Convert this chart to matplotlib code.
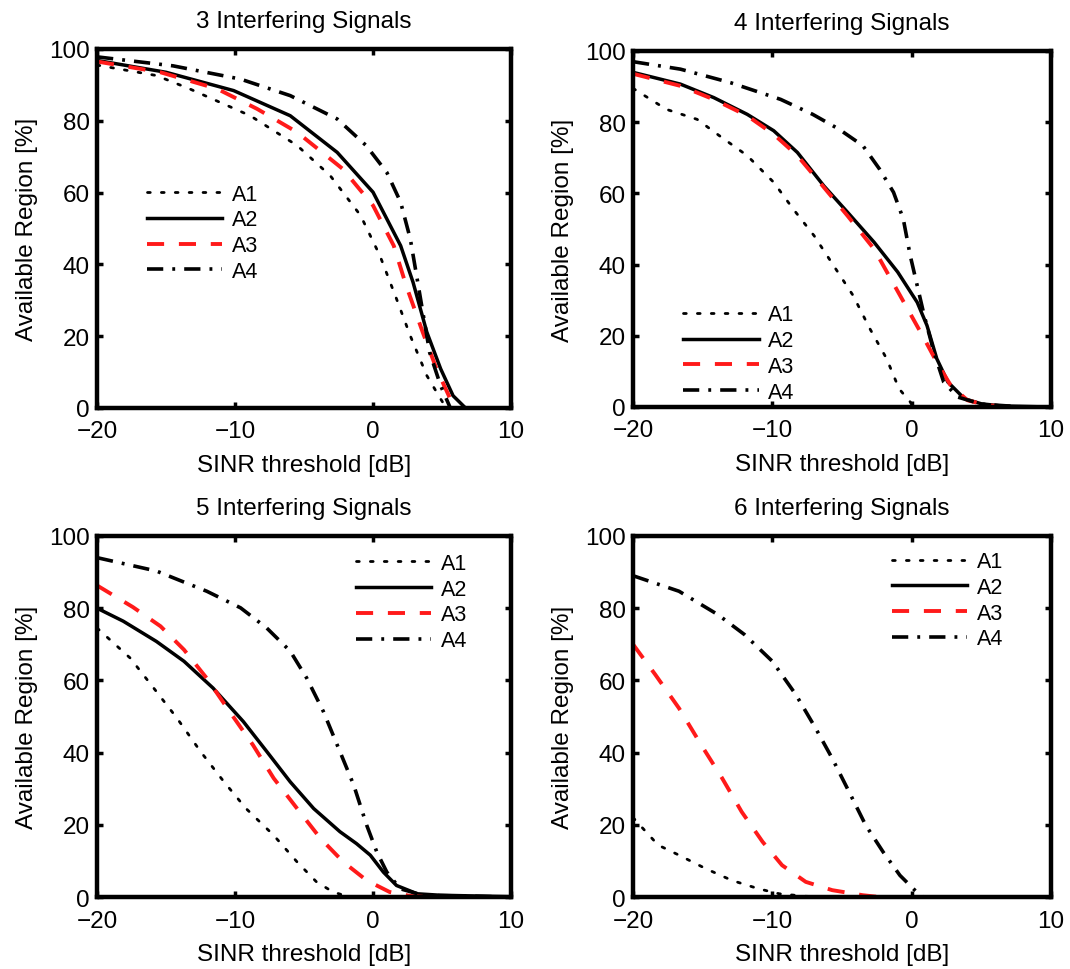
import matplotlib
matplotlib.use("Agg")
import matplotlib.pyplot as plt

plt.rcParams['font.family'] = ['Liberation Sans', 'DejaVu Sans']

titles = ["3 Interfering Signals", "4 Interfering Signals",
          "5 Interfering Signals", "6 Interfering Signals"]
series_names = ["A1", "A2", "A3", "A4"]
xlabel_text = "SINR threshold [dB]"
ylabel_text = "Available Region [%]"
xticks = [-20, -10, 0, 10]
xticklabels = ['\u221220', '\u221210', '0', '10']
yticks = [0, 20, 40, 60, 80, 100]

# ---- 3 interfering signals ----
p3_a1_x = [-20, -15.7, -13.3, -8.9, -5.5, -3.1, -0.9, 0.5, 1.7, 2.7, 3.9, 4.9, 5.3, 10]
p3_a1_y = [95.5, 92.6, 88.9, 81.4, 73.1, 64.7, 53.6, 42.4, 30.4, 20.1, 9.0, 2.5, 0, 0]
p3_a2_x = [-20, -15.0, -10.1, -6.0, -2.6, 0.0, 2.0, 2.9, 3.9, 4.9, 5.8, 6.7, 10]
p3_a2_y = [96.8, 93.5, 88.4, 81.4, 71.2, 60.1, 45.2, 35.0, 21.1, 10.9, 3.4, 0, 0]
p3_a3_x = [-20, -15.4, -11.3, -8.4, -5.5, -2.2, 0.0, 1.5, 2.4, 3.6, 4.6, 5.6, 6.1, 10]
p3_a3_y = [96.5, 93.5, 88.9, 83.3, 76.8, 66.6, 56.4, 45.2, 34.1, 21.1, 10.9, 2.5, 0, 0]
p3_a4_x = [-20, -14.5, -9.6, -6.0, -2.6, -0.5, 1.0, 2.0, 2.7, 3.2, 3.65, 4.1, 4.9, 5.6, 10]
p3_a4_y = [97.8, 95.3, 91.6, 87.0, 80.5, 73.1, 65.6, 57.3, 47.1, 35.9, 25.7, 15.5, 6.2, 0, 0]

# ---- 4 interfering signals ----
p4_a1_x = [-20, -17.6, -15.4, -13.8, -11.8, -9.9, -8.5, -7.0, -5.6, -4.2, -3.0, -1.8, -0.9, -0.1, 0.1, 10]
p4_a1_y = [89.5, 83.6, 80.8, 76.2, 70.6, 63.1, 55.6, 48.1, 39.7, 31.3, 22.0, 13.6, 5.1, 1.4, 0, 0]
p4_a2_x = [-20, -16.6, -14.2, -11.8, -9.9, -8.2, -6.3, -4.6, -2.7, -1.0, 0.4, 1.1, 1.8, 2.6, 3.8, 5.0, 6.4, 9.8, 10]
p4_a2_y = [94.0, 90.7, 86.9, 82.2, 77.6, 71.5, 62.1, 54.7, 46.3, 37.9, 29.4, 22.9, 13.6, 7.0, 2.3, 0.9, 0.3, 0, 0]
p4_a3_x = [-20, -16.6, -14.2, -11.8, -9.9, -8.2, -6.3, -4.6, -2.7, -1.5, -0.3, 0.9, 1.8, 2.8, 4.0, 5.4, 7.3, 10]
p4_a3_y = [93.6, 90.2, 86.4, 81.8, 76.6, 70.6, 61.7, 53.7, 44.4, 36.0, 27.6, 19.2, 12.6, 6.1, 1.9, 0.5, 0, 0]
p4_a4_x = [-20, -16.6, -13.0, -9.4, -7.1, -5.2, -3.5, -2.3, -1.3, -0.6, -0.1, 0.4, 0.9, 1.6, 2.3, 3.3, 5.0, 8.0, 10]
p4_a4_y = [97.0, 94.9, 91.1, 86.4, 82.2, 78.0, 73.4, 66.8, 60.3, 52.8, 42.5, 34.1, 25.7, 15.4, 7.0, 2.8, 0.8, 0, 0]

# ---- 5 interfering signals ----
p5_a1_x = [-20, -17.6, -15.9, -14.2, -12.5, -10.8, -9.2, -7.2, -5.5, -4.1, -2.9, -1.7, 10]
p5_a1_y = [74.5, 66.2, 57.9, 49.5, 40.3, 31.9, 24.5, 17.1, 9.7, 4.2, 1.4, 0, 0]
p5_a2_x = [-20, -18.1, -15.7, -13.7, -11.6, -9.4, -7.7, -6.0, -4.3, -2.4, -1.2, -0.2, 0.75, 1.7, 3.2, 4.85, 8.5, 10]
p5_a2_y = [80.0, 76.4, 70.8, 65.3, 57.9, 48.6, 40.3, 31.9, 24.5, 18.1, 14.8, 11.6, 6.9, 3.2, 0.9, 0.5, 0.2, 0.1]
p5_a3_x = [-20, -17.4, -15.4, -13.7, -12.05, -10.4, -8.7, -7.2, -5.5, -3.8, -2.15, -0.46, 1.2, 2.7, 3.9, 10]
p5_a3_y = [86.3, 80.3, 75.0, 68.5, 60.6, 51.4, 42.1, 32.9, 24.5, 16.2, 9.7, 4.6, 1.4, 0.3, 0, 0]
p5_a4_x = [-20, -15.7, -12.05, -9.6, -7.7, -6.0, -4.8, -3.6, -2.4, -1.4, -0.46, 0.27, 1.0, 1.96, 3.6, 10]
p5_a4_y = [94.0, 90.3, 84.7, 80.1, 74.5, 68.1, 60.6, 51.4, 40.3, 31.0, 19.9, 12.5, 6.9, 2.3, 0.5, 0]

# ---- 6 interfering signals ----
p6_a1_x = [-20, -18.2, -16.7, -14.8, -12.9, -11.0, -9.5, -7.6, -5.9, 10]
p6_a1_y = [22.0, 14.4, 11.6, 7.9, 4.6, 2.3, 0.9, 0.2, 0, 0]
p6_a2_x = [-20, 10]
p6_a2_y = [0, 0]
p6_a3_x = [-20, -18.4, -16.7, -15.1, -13.6, -12.2, -10.7, -9.3, -7.6, -5.7, -3.5, -2.3, 10]
p6_a3_y = [70.0, 61.6, 52.3, 42.1, 32.9, 23.6, 15.3, 8.8, 4.2, 1.9, 0.5, 0, 0]
p6_a4_x = [-20, -16.7, -13.9, -12.0, -10.0, -8.3, -6.9, -5.7, -4.5, -3.3, -2.05, -0.84, 0.12, 0.6, 0.84, 10]
p6_a4_y = [89.0, 84.7, 78.2, 72.7, 65.3, 56.0, 46.8, 38.4, 29.2, 19.9, 12.5, 6.0, 2.3, 0.5, 0, 0]

panels = [
    [(p3_a1_x, p3_a1_y), (p3_a2_x, p3_a2_y), (p3_a3_x, p3_a3_y), (p3_a4_x, p3_a4_y)],
    [(p4_a1_x, p4_a1_y), (p4_a2_x, p4_a2_y), (p4_a3_x, p4_a3_y), (p4_a4_x, p4_a4_y)],
    [(p5_a1_x, p5_a1_y), (p5_a2_x, p5_a2_y), (p5_a3_x, p5_a3_y), (p5_a4_x, p5_a4_y)],
    [(p6_a1_x, p6_a1_y), (p6_a2_x, p6_a2_y), (p6_a3_x, p6_a3_y), (p6_a4_x, p6_a4_y)],
]

styles = [
    dict(color='black', lw=2.0, dashes=(1, 4), dash_capstyle='round'),
    dict(color='black', lw=2.5),
    dict(color='#ff1a1a', lw=2.8, dashes=(4.4, 3.8)),
    dict(color='black', lw=2.6, dashes=(4.5, 2.5, 0.8, 2.5)),
]

axes_pos = [
    [0.0907, 0.5784, 0.3869, 0.3701],
    [0.5916, 0.5794, 0.3906, 0.3670],
    [0.0907, 0.0742, 0.3869, 0.3722],
    [0.5916, 0.0742, 0.3906, 0.3722],
]
legend_anchor = [(0.12, 0.625), (0.12, 0.288), (0.625, 0.953), (0.62, 0.958)]

FS = 17.5
fig = plt.figure(figsize=(10.7, 9.7), dpi=100)
for i in range(4):
    ax = fig.add_axes(axes_pos[i])
    for (x, y), st, name in zip(panels[i], styles, series_names):
        ax.plot(x, y, label=name, **st)
    ax.set_xlim(-20, 10)
    ax.set_ylim(0, 100)
    ax.set_xticks(xticks)
    ax.set_yticks(yticks)
    ax.set_xticklabels(xticklabels)
    ax.tick_params(direction='in', length=4, width=2.5, labelsize=FS,
                   top=True, right=True)
    ax.tick_params(axis='x', pad=9)
    ax.tick_params(axis='y', pad=5)
    for sp in ax.spines.values():
        sp.set_linewidth(3.2)
    ax.set_title(titles[i], fontsize=FS, pad=16)
    ax.set_xlabel(xlabel_text, fontsize=FS, labelpad=8)
    ax.set_ylabel(ylabel_text, fontsize=FS, labelpad=8)
    ax.legend(loc='upper left', bbox_to_anchor=legend_anchor[i], frameon=False,
              fontsize=15.5, handlelength=3.5, handletextpad=0.45, borderpad=0,
              borderaxespad=0, labelspacing=0.22)

fig.savefig("out.png", dpi=100)
